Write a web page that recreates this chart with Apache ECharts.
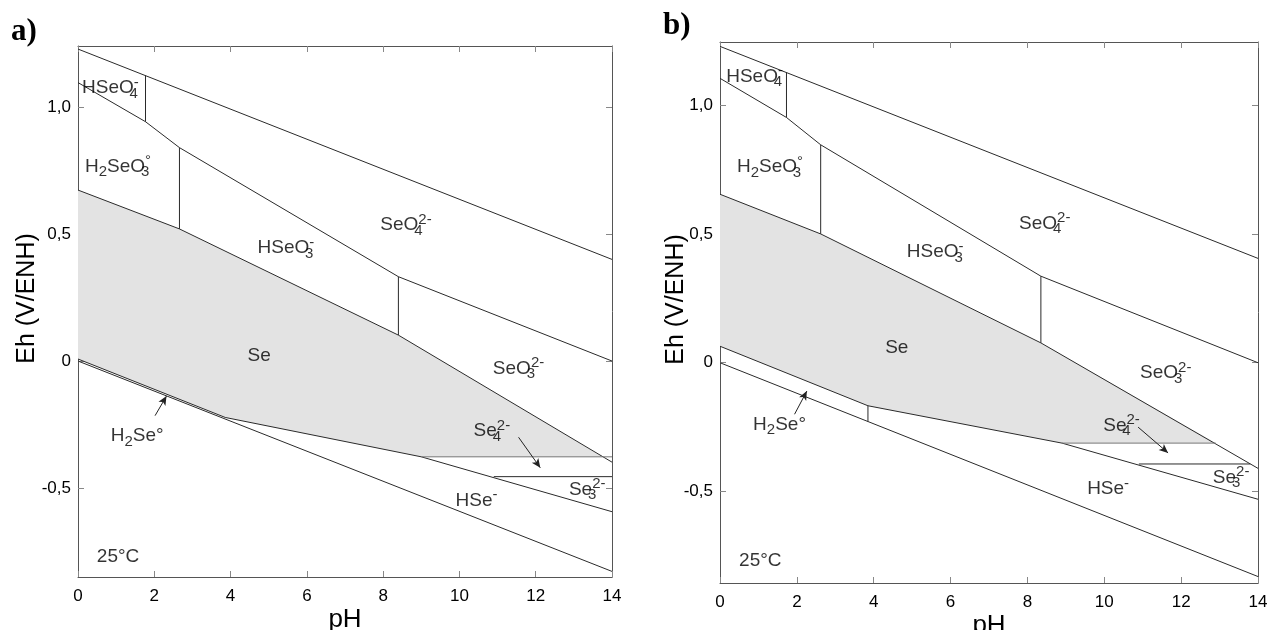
<!DOCTYPE html>
<html>
<head>
<meta charset="utf-8">
<script src="https://cdn.jsdelivr.net/npm/echarts@6/dist/echarts.min.js"></script>
<style>html,body{margin:0;padding:0;background:#fff}#c{width:1272px;height:630px}</style>
</head>
<body>
<div id="c"></div>
<script>
// ---------- data (pH, Eh in V) ----------
const phTicks = [0, 2, 4, 6, 8, 10, 12, 14];
const ehTicks = [-0.5, 0, 0.5, 1.0];
const ehTickLabels = ['-0,5', '0', '0,5', '1,0'];

// Panel a
const waterUpperA = [[0, 1.228], [14, 0.40]];
const waterLowerA = [[0, 0.0], [14, -0.828]];
const selenateA = [[0, 1.096], [1.77, 0.942], [2.66, 0.840], [8.4, 0.332], [14, 0.0]];
const vHSeO4A = [[1.77, 0.942], [1.77, 1.124]];
const vH2SeO3A = [[2.66, 0.520], [2.66, 0.840]];
const vHSeO3A = [[8.4, 0.102], [8.4, 0.332]];
const seUpperA = [[0, 0.673], [2.66, 0.520], [8.4, 0.102], [14, -0.398]];
const seLowerA = [[0, 0.008], [3.86, -0.222], [9.0, -0.377], [14, -0.593]];
const se4LineA = [[9.0, -0.377], [14, -0.377]];
const se3LineA = [[10.9, -0.455], [14, -0.455]];
const sePolyA = [[0, 0.673], [2.66, 0.520], [8.4, 0.102], [13.75, -0.377], [9.0, -0.377], [3.86, -0.222], [0, 0.008]];
const labelsA = [
  [0.85, 1.075, 'HSeO4'], [1.05, 0.765, 'H2SeO3'], [5.45, 0.445, 'HSeO3'], [8.6, 0.535, 'SeO4'],
  [4.75, 0.02, 'Se'], [11.55, -0.03, 'SeO3'], [10.85, -0.275, 'Se4'], [13.35, -0.505, 'Se3'],
  [10.45, -0.55, 'HSe'], [1.55, -0.295, 'H2Se'], [1.05, -0.77, 'T']
];
const arrowsA = [[11.55, -0.30, 12.12, -0.42], [2.02, -0.215, 2.32, -0.138]];

// Panel b
const waterUpperB = [[0, 1.228], [14, 0.405]];
const waterLowerB = [[0, 0.0], [14, -0.83]];
const selenateB = [[0, 1.104], [1.73, 0.952], [2.62, 0.846], [8.35, 0.336], [14, 0.0]];
const vHSeO4B = [[1.73, 0.952], [1.73, 1.126]];
const vH2SeO3B = [[2.62, 0.500], [2.62, 0.846]];
const vHSeO3B = [[8.35, 0.077], [8.35, 0.336]];
const seUpperB = [[0, 0.654], [2.62, 0.500], [8.35, 0.077], [14, -0.410]];
const seLowerB = [[0, 0.064], [3.85, -0.167], [8.9, -0.312], [14, -0.530]];
const vH2SeB = [[3.85, -0.167], [3.85, -0.228]];
const se4LineB = [[8.9, -0.312], [12.9, -0.312]];
const se3LineB = [[10.9, -0.393], [13.8, -0.393]];
const sePolyB = [[0, 0.654], [2.62, 0.500], [8.35, 0.077], [12.9, -0.312], [8.9, -0.312], [3.85, -0.167], [0, 0.064]];
const labelsB = [
  [0.9, 1.11, 'HSeO4'], [1.3, 0.76, 'H2SeO3'], [5.6, 0.43, 'HSeO3'], [8.45, 0.54, 'SeO4'],
  [4.6, 0.06, 'Se'], [11.6, -0.04, 'SeO3'], [10.45, -0.245, 'Se4'], [13.3, -0.445, 'Se3'],
  [10.1, -0.49, 'HSe'], [1.55, -0.24, 'H2Se'], [1.05, -0.77, 'T']
];
const arrowsB = [[10.88, -0.25, 11.66, -0.35], [1.94, -0.20, 2.26, -0.11]];

// label texts (rich)
const labelText = {
  HSeO4: 'HSeO{sb|4}{sp|-}',
  H2SeO3: 'H{sb2|2}SeO{sb|3}{sp|°}',
  HSeO3: 'HSeO{sb|3}{sp|-}',
  SeO4: 'SeO{sb|4}{sp|2-}',
  Se: 'Se',
  SeO3: 'SeO{sb|3}{sp|2-}',
  Se4: 'Se{sb|4}{sp|2-}',
  Se3: 'Se{sb|3}{sp|2-}',
  HSe: 'HSe{sp|-}',
  H2Se: 'H{sb2|2}Se°',
  T: '25°C'
};

// ---------- chart ----------
const FONT = 'Liberation Sans, Arial, sans-serif';
const TXT = '#000';
const rich = {
  sb: {fontSize: 15, lineHeight: 6, verticalAlign: 'bottom', width: 0, fontFamily: FONT, color: TXT},
  sb2: {fontSize: 15, lineHeight: 6, verticalAlign: 'bottom', fontFamily: FONT, color: TXT},
  sp: {fontSize: 15, lineHeight: 8, verticalAlign: 'top', fontFamily: FONT, color: TXT}
};

const grids = [
  {left: 78, top: 46, width: 534, height: 531, outerBoundsMode: 'none', containLabel: false},
  {left: 720, top: 42, width: 538, height: 541, outerBoundsMode: 'none', containLabel: false}
];
const yRanges = [[-0.85, 1.24], [-0.855, 1.245]];
const nameGaps = [38, 31];

const xAxis = [], yAxis = [];
const axisLineStyle = {show: true, onZero: false, lineStyle: {color: '#555', width: 1}};
const tickStyle = {show: true, inside: true, length: 6, lineStyle: {color: '#888'}};
function ehFmt(v) {
  const i = ehTicks.findIndex(t => Math.abs(t - v) < 1e-6);
  return i >= 0 ? ehTickLabels[i] : '';
}
[0, 1].forEach(g => {
  xAxis.push({
    type: 'value', gridIndex: g, min: 0, max: 14, interval: 2, position: 'bottom',
    name: 'pH', nameLocation: 'middle', nameGap: 30, nameMoveOverlap: false,
    nameTextStyle: {fontSize: 26, fontFamily: FONT, color: TXT},
    axisLine: axisLineStyle, axisTick: tickStyle, splitLine: {show: false},
    axisLabel: {fontSize: 17, fontFamily: FONT, color: TXT, margin: 11}
  });
  xAxis.push({
    type: 'value', gridIndex: g, min: 0, max: 14, interval: 2, position: 'top',
    axisLine: axisLineStyle, axisTick: tickStyle, splitLine: {show: false}, axisLabel: {show: false}
  });
  yAxis.push({
    type: 'value', gridIndex: g, min: yRanges[g][0], max: yRanges[g][1], position: 'left',
    name: 'Eh (V/ENH)', nameLocation: 'middle', nameGap: nameGaps[g], nameMoveOverlap: false,
    nameTextStyle: {fontSize: 25, fontFamily: FONT, color: TXT, padding: [0, 0, 0, 26]},
    axisLine: axisLineStyle, axisTick: Object.assign({}, tickStyle, {customValues: ehTicks}),
    splitLine: {show: false},
    axisLabel: {customValues: ehTicks, formatter: ehFmt, fontSize: 17, fontFamily: FONT, color: TXT, margin: 7}
  });
  yAxis.push({
    type: 'value', gridIndex: g, min: yRanges[g][0], max: yRanges[g][1], position: 'right',
    axisLine: axisLineStyle, axisTick: Object.assign({}, tickStyle, {customValues: ehTicks}),
    splitLine: {show: false}, axisLabel: {show: false}
  });
});

const series = [];
function lineS(g, pts, color) {
  series.push({
    type: 'line', xAxisIndex: g * 2, yAxisIndex: g * 2, data: pts, symbol: 'none',
    lineStyle: {color: color || '#2a2a2a', width: 1}, silent: true, z: 3, animation: false
  });
}
function polyS(g, poly) {
  series.push({
    type: 'custom', xAxisIndex: g * 2, yAxisIndex: g * 2, data: [0], silent: true, z: 1,
    animation: false,
    renderItem: (params, api) => ({
      type: 'polygon', shape: {points: poly.map(p => api.coord(p))},
      style: {fill: '#e3e3e3', stroke: null}
    })
  });
}
function labelS(g, labels, arrows) {
  series.push({
    type: 'scatter', xAxisIndex: g * 2, yAxisIndex: g * 2, symbolSize: 0, silent: true, z: 5,
    animation: false,
    data: labels.map(l => ({value: [l[0], l[1]], name: l[2]})),
    label: {
      show: true, position: 'inside', fontSize: 19, lineHeight: 26, fontFamily: FONT, color: TXT,
      formatter: p => labelText[p.name], rich: rich
    },
    markLine: {
      silent: true, animation: false, symbol: ['none', 'arrow'], symbolSize: [6, 9],
      lineStyle: {color: '#222', width: 1, type: 'solid'}, label: {show: false},
      data: arrows.map(a => [{coord: [a[0], a[1]]}, {coord: [a[2], a[3]]}])
    }
  });
}

// panel a
polyS(0, sePolyA);
[waterUpperA, waterLowerA, selenateA, vHSeO4A, vH2SeO3A, vHSeO3A, seUpperA, seLowerA, se3LineA].forEach(p => lineS(0, p));
lineS(0, se4LineA, '#777');
labelS(0, labelsA, arrowsA);
// panel b
polyS(1, sePolyB);
[waterUpperB, waterLowerB, selenateB, vHSeO4B, vH2SeO3B, vHSeO3B, seUpperB, seLowerB, vH2SeB, se3LineB].forEach(p => lineS(1, p));
lineS(1, se4LineB, '#777');
labelS(1, labelsB, arrowsB);

const chart = echarts.init(document.getElementById('c'), null, {renderer: 'canvas'});
chart.setOption({
  animation: false,
  title: [
    {text: 'a)', left: 6, top: 11, textStyle: {fontFamily: 'Liberation Serif, Times New Roman, serif', fontWeight: 'bold', fontSize: 31, color: '#000'}},
    {text: 'b)', left: 658, top: 5, textStyle: {fontFamily: 'Liberation Serif, Times New Roman, serif', fontWeight: 'bold', fontSize: 31, color: '#000'}}
  ],
  grid: grids,
  xAxis: xAxis,
  yAxis: yAxis,
  series: series
});
</script>
</body>
</html>
